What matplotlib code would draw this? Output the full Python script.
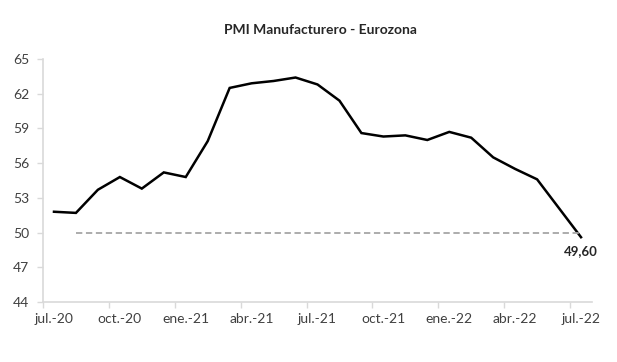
import matplotlib
matplotlib.use("Agg")
import matplotlib.pyplot as plt
import numpy as np

plt.rcParams['font.family'] = ['Lato', 'DejaVu Sans']

# PMI manufacturero Eurozona, jul-2020 .. jul-2022 (mensual)
months = ["jul.-20", "ago.-20", "sep.-20", "oct.-20", "nov.-20", "dic.-20",
          "ene.-21", "feb.-21", "mar.-21", "abr.-21", "may.-21", "jun.-21",
          "jul.-21", "ago.-21", "sep.-21", "oct.-21", "nov.-21", "dic.-21",
          "ene.-22", "feb.-22", "mar.-22", "abr.-22", "may.-22", "jun.-22",
          "jul.-22"]
pmi = [51.8, 51.7, 53.7, 54.8, 53.8, 55.2, 54.8, 57.9, 62.5, 62.9, 63.1, 63.4,
       62.8, 61.4, 58.6, 58.3, 58.4, 58.0, 58.7, 58.2, 56.5, 55.5, 54.6, 52.1,
       49.6]
threshold = 50
yticks = [44, 47, 50, 53, 56, 59, 62, 65]

fig = plt.figure(figsize=(6.17, 3.62), dpi=100)
ax = fig.add_axes([43/617, 60/362, 549/617, 243/362])

x = np.arange(len(pmi))
ax.plot(x, pmi, color="black", lw=1.8, solid_joinstyle="miter")
ax.plot(x[1:], [threshold]*(len(x)-1), color="#a6a6a6", lw=1.3, ls=(0, (3.5, 2)))

ax.annotate("49,60", (x[-1], pmi[-1]), xytext=(0, -6), textcoords="offset points",
            ha="center", va="top", fontsize=9.5, fontweight="bold", color="#262626")

ax.set_xlim(-0.5, len(pmi) - 0.5)
ax.set_ylim(44, 65)
ax.set_yticks(yticks)
ax.set_xticks(x[::3])
ax.set_xticklabels(months[::3])
ax.set_xticks(np.arange(-0.5, len(pmi), 3), minor=True)

for s in ["top", "right"]:
    ax.spines[s].set_visible(False)
for s in ["left", "bottom"]:
    ax.spines[s].set_color("#d9d9d9")
    ax.spines[s].set_linewidth(1.2)

ax.tick_params(axis="x", which="major", length=0, pad=8, labelsize=10, labelcolor="#404040")
ax.tick_params(axis="x", which="minor", length=4, color="#d9d9d9", width=1)
ax.tick_params(axis="y", length=4, color="#d9d9d9", width=1, pad=6, labelsize=10, labelcolor="#404040")

fig.text(0.519, 0.917, "PMI Manufacturero - Eurozona", ha="center", va="center",
         fontsize=10, fontweight="bold", color="#262626")

fig.savefig("out.png", dpi=100)
